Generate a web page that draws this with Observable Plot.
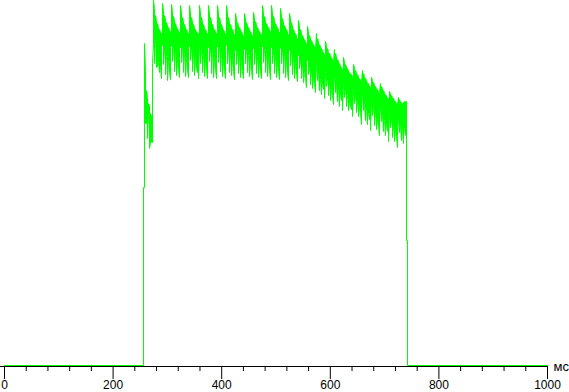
<!DOCTYPE html>
<html>
<head>
<meta charset="utf-8">
<script src="https://cdn.jsdelivr.net/npm/d3@7"></script>
<script src="https://cdn.jsdelivr.net/npm/@observablehq/plot@0.6"></script>
<style>
  html, body { margin: 0; padding: 0; background: #fff; }
</style>
</head>
<body>
<div id="chart"></div>
<script>
// Axis ticks (ms)
const majorTicks = [0, 200, 400, 600, 800, 1000];
const minorTicks = [40, 80, 120, 160, 240, 280, 320, 360, 440, 480, 520, 560, 640, 680, 720, 760, 840, 880, 920, 960];
const unitLabel = "мс";

// Oscillogram: brightness (relative units, 0 = dark) sampled every ~1.84 ms from 256 ms.
// For each sample: maximum (upper) and minimum (lower) of the trace.
const firstSampleMs = 256;
const sampleStepMs = 1.8416;
const upper = [
  178, 322, 295, 275, 268, 262, 260, 252, 250, 302,
  365, 357, 350, 345, 342, 338, 336, 334, 332,
  362, 355, 350, 346, 343, 340, 338, 336, 334,
  361, 354, 349, 345, 342, 339, 337, 335, 333,
  360, 353, 348, 344, 341, 338, 336, 334, 332,
  360, 353, 348, 344, 341, 338, 336, 334, 333, 332,
  360, 353, 348, 344, 341, 338, 336, 334, 332,
  360, 353, 348, 344, 341, 338, 336, 334, 332,
  360, 353, 348, 344, 341, 338, 336, 334, 332,
  360, 353, 348, 344, 341, 338, 336, 334, 331,
  352, 347, 343, 340, 338, 336, 334, 332, 330,
  352, 347, 343, 340, 338, 336, 334, 332, 330,
  353, 348, 344, 341, 338, 336, 334, 332, 331,
  360, 353, 349, 345, 342, 340, 338, 336, 334,
  360, 353, 349, 345, 342, 340, 338, 336, 333,
  357, 351, 347, 343, 340, 338, 336, 334, 331,
  352, 347, 343, 339, 336, 334, 332, 330, 327,
  345, 340, 336, 333, 330, 328, 326, 324, 322,
  339, 334, 330, 327, 325, 323, 321, 319, 317,
  332, 327, 324, 321, 319, 317, 315, 313, 311,
  324, 320, 317, 314, 312, 310, 308, 306, 304,
  316, 312, 309, 306, 304, 302, 300, 298, 296,
  308, 304, 301, 299, 297, 295, 293, 292, 291, 289,
  301, 298, 295, 293, 291, 289, 287, 286, 284,
  295, 292, 289, 287, 285, 283, 282, 280, 278,
  288, 285, 283, 281, 279, 277, 276, 274, 273,
  282, 279, 277, 275, 273, 271, 270, 268, 267,
  274, 272, 270, 268, 267, 265, 264, 262, 261,
  268, 266, 264, 263, 262, 263, 264, 264, 264,
  125
];
const lower = [
  0, 178, 242, 242, 227, 250, 217, 223, 223, 223,
  322, 302, 325, 298, 299, 303, 293, 299, 287,
  320, 301, 314, 291, 309, 285, 304, 293, 286,
  319, 304, 317, 294, 312, 290, 306, 296, 288,
  318, 303, 316, 293, 311, 289, 307, 295, 288,
  319, 305, 315, 294, 312, 290, 308, 297, 293, 287,
  320, 302, 316, 293, 310, 289, 306, 295, 287,
  318, 304, 315, 292, 312, 288, 307, 296, 287,
  319, 303, 317, 294, 311, 289, 305, 295, 287,
  320, 302, 314, 293, 310, 290, 306, 294, 286,
  315, 301, 313, 292, 309, 288, 304, 294, 287,
  316, 302, 314, 293, 310, 289, 305, 295, 286,
  317, 301, 313, 292, 309, 288, 304, 294, 287,
  319, 303, 315, 293, 311, 289, 306, 295, 286,
  318, 302, 314, 292, 310, 288, 305, 294, 286,
  317, 302, 313, 292, 309, 288, 304, 293, 285,
  315, 300, 312, 291, 307, 287, 302, 291, 284,
  310, 297, 303, 287, 298, 283, 293, 287, 278,
  305, 291, 297, 281, 292, 277, 288, 282, 273,
  299, 285, 291, 275, 286, 271, 281, 276, 267,
  293, 279, 285, 270, 280, 265, 276, 270, 261,
  287, 273, 279, 264, 275, 259, 270, 265, 255,
  281, 268, 274, 259, 270, 255, 265, 259, 256, 249,
  275, 262, 268, 253, 264, 249, 259, 253, 241,
  269, 255, 261, 245, 257, 241, 252, 246, 235,
  263, 250, 256, 240, 251, 236, 246, 240, 230,
  257, 244, 250, 234, 245, 230, 240, 234, 224,
  250, 238, 244, 228, 239, 224, 234, 229, 218,
  245, 233, 239, 225, 235, 222, 237, 230, 125,
  0
];

// Build the trace: baseline, then each sample's vertical excursion, then baseline.
const trace = [{t: 0, v: 0}];
let prev = 0;
let lastT = 0;
upper.forEach((hi, i) => {
  const lo = lower[i];
  const t = firstSampleMs + i * sampleStepMs;
  lastT = t;
  if (Math.abs(lo - prev) <= Math.abs(hi - prev)) {
    trace.push({t, v: lo}, {t, v: hi}); prev = hi;
  } else {
    trace.push({t, v: hi}, {t, v: lo}); prev = lo;
  }
});
trace.push({t: lastT, v: 0}, {t: 1000, v: 0});

const chart = Plot.plot({
  width: 569,
  height: 392,
  marginTop: 0,
  marginBottom: 27,
  marginLeft: 0,
  marginRight: 21,
  style: {fontFamily: "'Liberation Sans', Arial, sans-serif", background: "#fff", color: "#000"},
  x: {domain: [0, 1000], range: [4, 547], axis: null},
  y: {domain: [0, 365], range: [365, 0], axis: null},
  marks: [
    Plot.ruleY([0], {dy: 1, stroke: "#000", strokeWidth: 1}),
    Plot.axisX(minorTicks, {tickSize: 5, dy: 1, stroke: "#000", tickFormat: () => "", label: null}),
    Plot.axisX(majorTicks, {tickSize: 13, dy: 1, tickPadding: 1, stroke: "#000", fill: "#000", fontSize: 12, tickFormat: d => String(d), label: null}),
    Plot.line(trace, {x: "t", y: "v", stroke: "#00ff00", strokeWidth: 1}),
    Plot.text([{t: 1000, v: 0, label: unitLabel}], {x: "t", y: "v", text: "label", dx: 6, dy: 1, textAnchor: "start", fontSize: 13, fill: "#000"})
  ]
});
document.getElementById("chart").appendChild(chart);
</script>
</body>
</html>
